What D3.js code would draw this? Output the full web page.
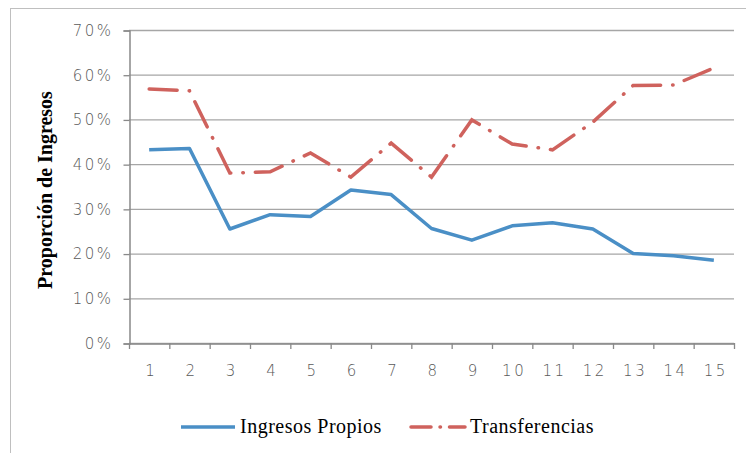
<!DOCTYPE html>
<html>
<head>
<meta charset="utf-8">
<script src="https://cdn.jsdelivr.net/npm/d3@7"></script>
<style>
  body{margin:0;background:#fff}
  .tick text{font-family:"DejaVu Sans",sans-serif;font-size:15px;font-weight:300;fill:#595959;letter-spacing:2.5px}
</style>
</head>
<body>
<div id="chart"></div>
<script>
var categories = d3.range(1,16)
var ingresosPropios = [43.2,43.5,25.5,28.7,28.3,34.2,33.2,25.6,23.0,26.2,26.9,25.5,20.0,19.5,18.5]
var transferencias = [56.8,56.4,38.0,38.3,42.5,37.1,44.7,37.1,49.9,44.5,43.2,49.4,57.6,57.7,61.5]
var yTicks = [0,10,20,30,40,50,60,70]

var W = 746, H = 453
var svg = d3.select("#chart").append("svg").attr("width",W).attr("height",H)

svg.append("rect").attr("x",10.5).attr("y",8.5).attr("width",800).attr("height",500)
  .attr("fill","none").attr("stroke","#bfbfbf")

var x = d3.scaleBand().domain(categories).range([129,734])
var y = d3.scaleLinear().domain([0,70]).range([343,30])

// gridlines
svg.append("g").selectAll("line").data(yTicks).enter().append("line")
  .attr("x1",129).attr("x2",734).attr("y1",d=>y(d)+0.5).attr("y2",d=>y(d)+0.5)
  .attr("stroke","#a6a6a6").attr("stroke-width",1.3)

var yAxis = svg.append("g").attr("transform","translate(129.5,0.5)")
  .call(d3.axisLeft(y).tickValues(yTicks).tickSize(6).tickPadding(10).tickFormat(d=>d+"%"))
yAxis.select(".domain").attr("stroke","#898989").attr("stroke-width",1.5)
yAxis.selectAll(".tick line").attr("stroke","#898989").attr("stroke-width",1.3)

var xAxis = svg.append("g").attr("transform","translate(0,343.5)")
  .call(d3.axisBottom(x).tickSize(0).tickPadding(22))
xAxis.select(".domain").attr("stroke","#898989").attr("stroke-width",1.5)
xAxis.selectAll(".tick text").attr("dx","2")
// tick marks at band edges
svg.append("g").selectAll("line").data(categories.concat([16])).enter().append("line")
  .attr("x1",d=>(d<16?x(d):734)+0.5).attr("x2",d=>(d<16?x(d):734)+0.5)
  .attr("y1",343).attr("y2",349).attr("stroke","#898989").attr("stroke-width",1.3)

var cx = d=>x(d)+x.bandwidth()/2
var line = d3.line().x((d,i)=>cx(categories[i])).y(d=>y(d))

svg.append("path").datum(ingresosPropios).attr("d",line)
  .attr("fill","none").attr("stroke","#4A8FC6").attr("stroke-width",3.5).attr("stroke-linejoin","round")

svg.append("path").datum(transferencias).attr("d",line)
  .attr("fill","none").attr("stroke","#CF625D").attr("stroke-width",3.5)
  .attr("stroke-linecap","round").attr("stroke-dasharray","28 12 0.5 12")

// y axis title
svg.append("text").attr("transform","translate(52,190) rotate(-90)")
  .attr("text-anchor","middle").style("font-family","'Liberation Serif',serif")
  .style("font-weight","bold").style("font-size","20px").text("Proporción de Ingresos")

// legend
var legend = [
  {name:"Ingresos Propios", color:"#4A8FC6", dash:null, x:181},
  {name:"Transferencias", color:"#CF625D", dash:"20 9 0.5 9", x:411}
]
var lg = svg.append("g").selectAll("g").data(legend).enter().append("g")
lg.append("line").attr("x1",d=>d.x).attr("x2",d=>d.x+54).attr("y1",427).attr("y2",427)
  .attr("stroke",d=>d.color).attr("stroke-width",3.5).attr("stroke-dasharray",d=>d.dash)
  .attr("stroke-linecap",d=>d.dash?"round":"butt")
lg.append("text").attr("x",d=>d.x+59).attr("y",433)
  .style("font-family","'Liberation Serif',serif").style("font-size","20px").style("letter-spacing","0.5px").attr("fill","#000")
  .text(d=>d.name)
</script>
</body>
</html>
